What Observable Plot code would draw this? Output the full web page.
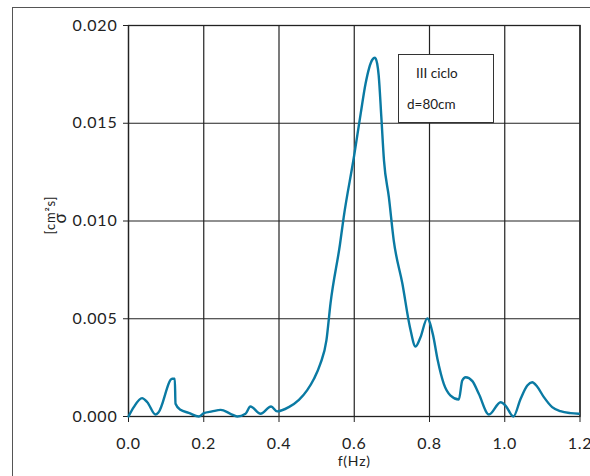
<!DOCTYPE html>
<html><head><meta charset="utf-8">
<script src="https://cdn.jsdelivr.net/npm/d3@7"></script>
<script src="https://cdn.jsdelivr.net/npm/@observablehq/plot@0.6"></script>
<style>
html,body{margin:0;padding:0;background:#fff;overflow:hidden}
#wrap{position:relative;width:590px;height:476px;overflow:hidden}
#chart{position:absolute;left:0;top:0}
#frame{position:absolute;left:12px;top:7px;width:640px;height:540px;border:1px solid #555;box-sizing:border-box;pointer-events:none}
#legend{position:absolute;left:398px;top:54px;width:96px;height:69px;border:1px solid #333;background:#fff;box-sizing:border-box;font-family:Lato,"Open Sans",sans-serif;font-size:13.5px;color:#222}
#legend span{position:absolute;white-space:nowrap;line-height:18px}
</style></head><body>
<div id="wrap"><div id="chart"></div><div id="frame"></div>
<div id="legend"><span id="l1" style="left:17px;top:9px"></span><span id="l2" style="left:8px;top:40px"></span></div></div>
<script>
const freq  = [0.000,0.014,0.036,0.050,0.072,0.080,0.116,0.123,0.125,0.138,0.160,0.187,0.200,0.222,0.245,0.271,0.289,0.311,0.324,0.351,0.379,0.395,0.426,0.453,0.475,0.493,0.510,0.526,0.537,0.562,0.572,0.599,0.617,0.630,0.648,0.655,0.661,0.665,0.672,0.679,0.692,0.705,0.728,0.748,0.763,0.776,0.794,0.809,0.822,0.838,0.856,0.878,0.887,0.896,0.914,0.931,0.958,0.989,1.002,1.023,1.042,1.060,1.073,1.086,1.104,1.126,1.148,1.175,1.197];
const sigma = [0.0000,0.00048,0.00094,0.00073,0.00010,0.00022,0.00193,0.00193,0.00065,0.00034,0.00019,0.00000,0.00017,0.00026,0.00034,0.00014,0.00000,0.00014,0.00051,0.00014,0.00051,0.00026,0.00048,0.00085,0.00135,0.00193,0.00270,0.00389,0.00580,0.00880,0.01020,0.01326,0.01548,0.01702,0.01825,0.01835,0.01804,0.01744,0.01531,0.01310,0.01122,0.00900,0.00679,0.00457,0.00358,0.00405,0.00502,0.00420,0.00286,0.00167,0.00107,0.00087,0.00184,0.00201,0.00181,0.00116,0.00010,0.00073,0.00056,0.00000,0.00090,0.00159,0.00175,0.00153,0.00099,0.00048,0.00027,0.00017,0.00014];
const xTicks = [0, 0.2, 0.4, 0.6, 0.8, 1.0, 1.2];
const yTicks = [0, 0.005, 0.010, 0.015, 0.020];
const xLabel = "f(Hz)";
const yLabelTop = "σ";
const yLabelUnit = "[cm²s]";
const legendLines = ["III ciclo", "d=80cm"];

const data = freq.map((f, i) => ({f, s: sigma[i]}));

const chart = Plot.plot({
  width: 590, height: 476,
  marginLeft: 128, marginRight: 10.5, marginTop: 25, marginBottom: 60,
  style: {fontFamily: "Lato, 'Open Sans', sans-serif", fontSize: "16px", color: "#222", background: "transparent", letterSpacing: "0.8px"},
  x: {domain: [0, 1.2]},
  y: {domain: [0, 0.02]},
  marks: [
    Plot.gridX(xTicks, {stroke: "#222", strokeOpacity: 1, strokeWidth: 1.2}),
    Plot.gridY(yTicks, {stroke: "#222", strokeOpacity: 1, strokeWidth: 1.2}),
    Plot.frame({stroke: "#222", strokeWidth: 1.3}),
    Plot.axisX(xTicks, {tickSize: 6, tickPadding: 15, tickFormat: d3.format(".1f"), label: null, fontSize: 16}),
    Plot.axisY(yTicks, {tickSize: 5, tickPadding: 6, tickFormat: d3.format(".3f"), label: null, fontSize: 16}),
    Plot.line(data, {x: "f", y: "s", stroke: "#0a7aa3", strokeWidth: 2.4, curve: "monotone-x"}),
    Plot.text([xLabel], {text: d => d, frameAnchor: "bottom", dy: 49, fontSize: 14, letterSpacing: "0px"}),
    Plot.text([yLabelTop], {text: d => d, frameAnchor: "left", textAnchor: "middle", dx: -68, dy: -3, rotate: -90, fontSize: 17}),
    Plot.text([yLabelUnit], {text: d => d, frameAnchor: "left", textAnchor: "middle", dx: -78, dy: -6, rotate: -90, fontSize: 13, letterSpacing: "0px"})
  ]
});
document.getElementById("chart").append(chart);
document.getElementById("l1").textContent = legendLines[0];
document.getElementById("l2").textContent = legendLines[1];
</script>
</body></html>
